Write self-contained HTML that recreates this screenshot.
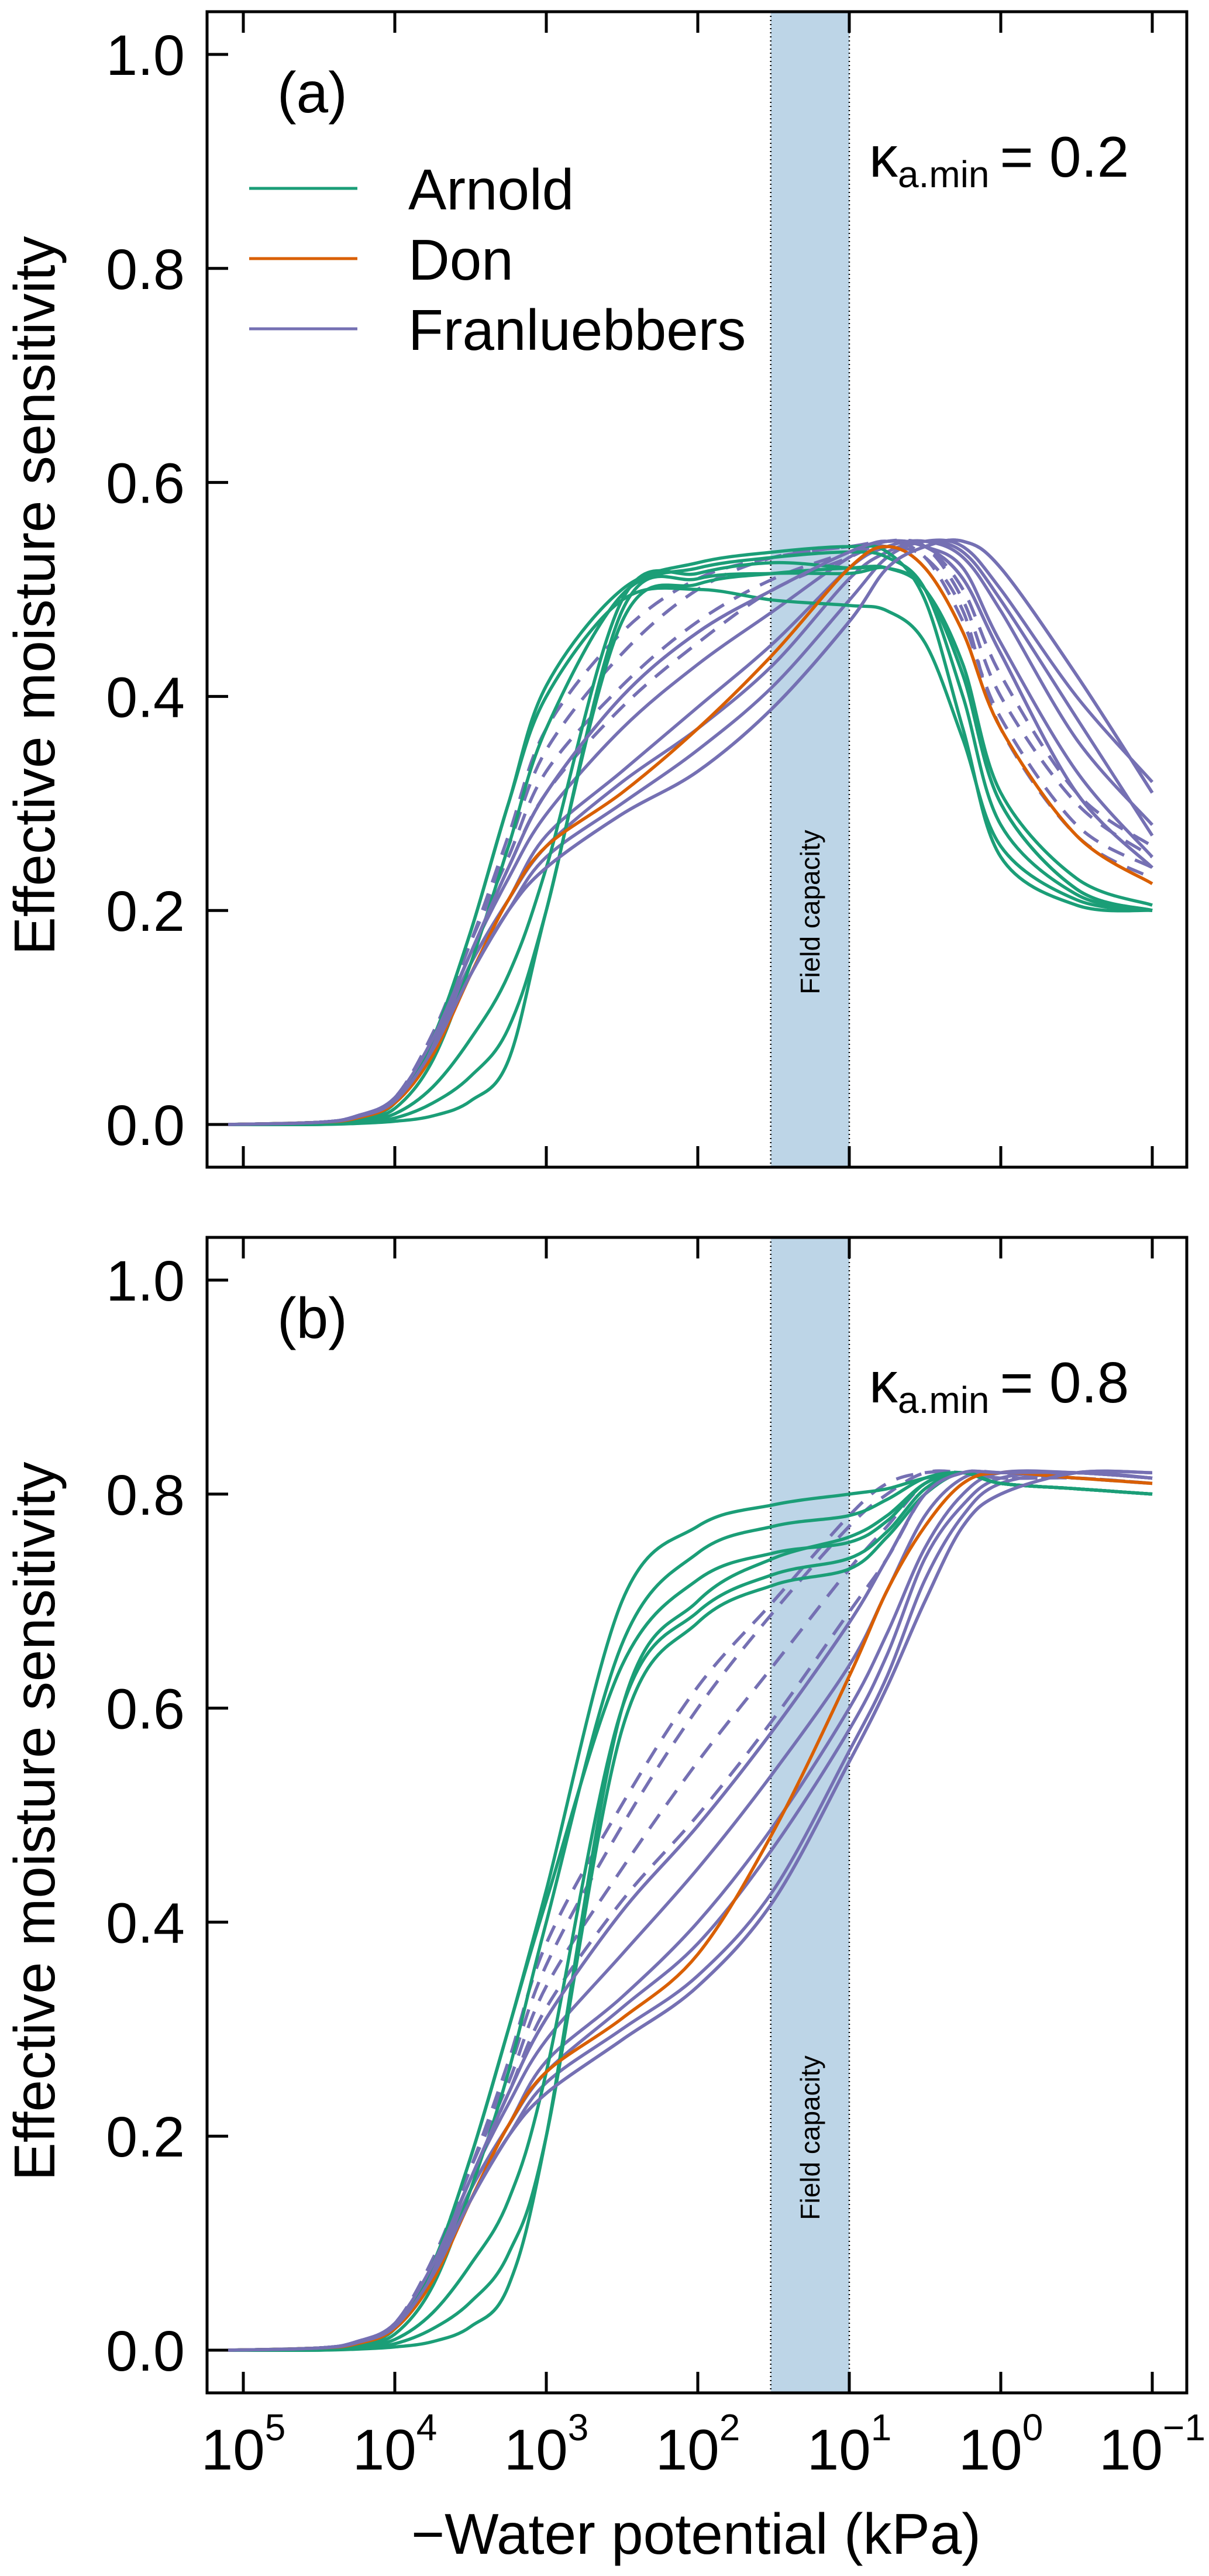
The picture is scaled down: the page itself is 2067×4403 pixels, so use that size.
<!DOCTYPE html>
<html><head><meta charset="utf-8"><style>
html,body{margin:0;padding:0;background:#fff}
svg{display:block}
text{font-family:"Liberation Sans",Arial,sans-serif;fill:#000}
</style></head><body>
<svg id="fig" xmlns="http://www.w3.org/2000/svg" width="2067" height="4403" viewBox="0 0 2067 4403"></svg>
<script>
// x grid: log10(-water potential, kPa)
const logX = [5.1,4.5,4.25,4,3.75,3.5,3.25,3,2.5,2,1.5,1,0.75,0.5,0.25,0,-0.5,-1];
const xTickExp = [5,4,3,2,1,0,-1];
const yTicks = [0,0.2,0.4,0.6,0.8,1.0];
const yTickLabels = ["0.0","0.2","0.4","0.6","0.8","1.0"];
const fieldCapacity = [Math.log10(33), 1];

// Panel (a) kappa = 0.2
const arnoldA = [
[0,0.002,0.006,0.02,0.08,0.18,0.30,0.41,0.50,0.525,0.535,0.54,0.535,0.49,0.37,0.25,0.205,0.20],
[0,0.002,0.006,0.02,0.08,0.18,0.30,0.40,0.49,0.50,0.49,0.485,0.48,0.45,0.36,0.26,0.21,0.20],
[0,0.001,0.004,0.015,0.06,0.15,0.26,0.37,0.495,0.52,0.53,0.535,0.53,0.50,0.40,0.28,0.215,0.20],
[0,0.001,0.003,0.01,0.035,0.08,0.14,0.24,0.49,0.515,0.525,0.52,0.52,0.50,0.42,0.30,0.22,0.20],
[0,0,0.002,0.006,0.02,0.045,0.09,0.20,0.48,0.51,0.515,0.515,0.52,0.50,0.42,0.30,0.22,0.20],
[0,0,0.001,0.003,0.008,0.022,0.06,0.20,0.47,0.505,0.515,0.52,0.52,0.50,0.43,0.31,0.23,0.205]];
const donA = [[0,0.002,0.006,0.02,0.065,0.14,0.21,0.26,0.31,0.37,0.44,0.52,0.54,0.52,0.46,0.37,0.27,0.225]];
const franSolidA = [
[0,0.002,0.007,0.022,0.07,0.14,0.20,0.25,0.30,0.35,0.41,0.49,0.53,0.545,0.54,0.50,0.40,0.32],
[0,0.002,0.007,0.023,0.075,0.15,0.21,0.27,0.33,0.39,0.45,0.52,0.54,0.545,0.53,0.48,0.36,0.28],
[0,0.002,0.008,0.025,0.08,0.16,0.23,0.29,0.37,0.43,0.48,0.53,0.545,0.54,0.52,0.45,0.33,0.25],
[0,0.002,0.008,0.025,0.08,0.16,0.24,0.31,0.40,0.46,0.50,0.535,0.545,0.54,0.51,0.44,0.31,0.24],
[0,0.002,0.007,0.022,0.07,0.14,0.20,0.24,0.29,0.33,0.39,0.47,0.52,0.54,0.545,0.52,0.42,0.31],
[0,0.002,0.007,0.022,0.072,0.15,0.21,0.26,0.32,0.37,0.43,0.51,0.535,0.545,0.535,0.49,0.38,0.27]];
const franDashA = [
[0,0.002,0.008,0.025,0.085,0.17,0.26,0.35,0.44,0.50,0.53,0.54,0.545,0.54,0.49,0.40,0.30,0.25],
[0,0.002,0.008,0.025,0.085,0.17,0.25,0.33,0.41,0.47,0.51,0.535,0.545,0.53,0.47,0.38,0.28,0.24],
[0,0.002,0.008,0.025,0.085,0.17,0.27,0.37,0.46,0.51,0.53,0.54,0.54,0.53,0.48,0.37,0.27,0.23],
[0,0.002,0.008,0.025,0.08,0.16,0.24,0.31,0.39,0.45,0.50,0.53,0.545,0.54,0.50,0.42,0.31,0.26]];

// Panel (b) kappa = 0.8
const arnoldB = [
[0,0.002,0.006,0.02,0.08,0.18,0.30,0.43,0.70,0.77,0.79,0.80,0.805,0.815,0.82,0.81,0.805,0.80],
[0,0.002,0.006,0.02,0.08,0.18,0.30,0.42,0.64,0.72,0.745,0.755,0.775,0.81,0.82,0.81,0.805,0.80],
[0,0.001,0.004,0.015,0.06,0.15,0.26,0.40,0.66,0.745,0.77,0.78,0.795,0.815,0.82,0.81,0.805,0.80],
[0,0.001,0.003,0.01,0.035,0.08,0.14,0.26,0.60,0.69,0.725,0.74,0.765,0.805,0.82,0.81,0.805,0.80],
[0,0,0.002,0.006,0.02,0.045,0.09,0.20,0.58,0.68,0.715,0.73,0.76,0.80,0.82,0.81,0.805,0.80],
[0,0,0.001,0.003,0.008,0.022,0.06,0.20,0.60,0.70,0.74,0.76,0.78,0.81,0.82,0.81,0.805,0.80]];
const donB = [[0,0.002,0.006,0.02,0.065,0.14,0.21,0.26,0.31,0.37,0.485,0.63,0.71,0.77,0.81,0.82,0.815,0.81]];
const franSolidB = [
[0,0.002,0.007,0.022,0.07,0.14,0.20,0.25,0.30,0.35,0.43,0.56,0.63,0.72,0.78,0.81,0.82,0.815],
[0,0.002,0.007,0.023,0.075,0.15,0.21,0.27,0.33,0.40,0.49,0.60,0.67,0.75,0.80,0.82,0.82,0.815],
[0,0.002,0.008,0.025,0.08,0.16,0.23,0.29,0.37,0.45,0.54,0.64,0.71,0.78,0.815,0.82,0.82,0.815],
[0,0.002,0.008,0.025,0.08,0.16,0.24,0.31,0.41,0.49,0.58,0.68,0.74,0.80,0.82,0.82,0.82,0.815],
[0,0.002,0.007,0.022,0.07,0.14,0.20,0.24,0.29,0.34,0.42,0.55,0.62,0.70,0.77,0.80,0.82,0.82],
[0,0.002,0.007,0.022,0.072,0.15,0.21,0.26,0.32,0.38,0.47,0.58,0.65,0.74,0.79,0.815,0.82,0.815]];
const franDashB = [
[0,0.002,0.008,0.025,0.085,0.17,0.26,0.36,0.49,0.60,0.69,0.77,0.80,0.82,0.82,0.815,0.815,0.81],
[0,0.002,0.008,0.025,0.085,0.17,0.25,0.34,0.45,0.55,0.64,0.73,0.77,0.81,0.82,0.82,0.815,0.81],
[0,0.002,0.008,0.025,0.085,0.17,0.27,0.38,0.51,0.62,0.70,0.78,0.81,0.82,0.82,0.815,0.815,0.81],
[0,0.002,0.008,0.025,0.08,0.16,0.24,0.32,0.42,0.50,0.59,0.69,0.74,0.80,0.82,0.82,0.815,0.81]];

const NS = "http://www.w3.org/2000/svg";
const svg = document.getElementById('fig');
const GREEN="#1b9e77", ORANGE="#d95f02", PURPLE="#7570b3";
const L=354, R=2029;
function mk(tag, attrs, parent){const e=document.createElementNS(NS,tag);for(const k in attrs)e.setAttribute(k,attrs[k]);(parent||svg).appendChild(e);return e;}
function xScale(lg){return 416+(5-lg)*259;}
function smoothPath(pts){
  let d="M"+pts[0][0].toFixed(1)+","+pts[0][1].toFixed(1);
  for(let i=0;i<pts.length-1;i++){
    const p0=pts[Math.max(0,i-1)],p1=pts[i],p2=pts[i+1],p3=pts[Math.min(pts.length-1,i+2)];
    const c1=[p1[0]+(p2[0]-p0[0])/6,p1[1]+(p2[1]-p0[1])/6];
    const c2=[p2[0]-(p3[0]-p1[0])/6,p2[1]-(p3[1]-p1[1])/6];
    d+=" C"+c1[0].toFixed(1)+","+c1[1].toFixed(1)+" "+c2[0].toFixed(1)+","+c2[1].toFixed(1)+" "+p2[0].toFixed(1)+","+p2[1].toFixed(1);
  }
  return d;
}
function panel(off, label, kappa, arn, don, fs, fd, id){
  const top=20+off, bot=1995+off;
  const yScale=v=>1922+off-1829*v;
  const g=mk('g',{});
  
  
  const cp=mk('clipPath',{id:'clip'+id},g);
  mk('rect',{x:L,y:top,width:R-L,height:bot-top},cp);
  const band=mk('rect',{x:xScale(fieldCapacity[0]),y:top,width:xScale(fieldCapacity[1])-xScale(fieldCapacity[0]),height:bot-top,fill:"#bdd5e7"},g);
  
  
  for(const lv of fieldCapacity){
    const ln=mk('line',{x1:xScale(lv),x2:xScale(lv),y1:top,y2:bot,stroke:"#000","stroke-width":2.5,"stroke-dasharray":"2,5"},g);
    
    
  }
  const fc=mk('text',{x:0,y:0,"font-size":46,"text-anchor":"middle",transform:"translate("+(xScale((fieldCapacity[0]+fieldCapacity[1])/2)+16)+","+(1559+off)+") rotate(-90)"},g);
  fc.textContent="Field capacity";
  
  
  const cg=mk('g',{"clip-path":"url(#clip"+id+")",fill:"none","stroke-width":5.5,"stroke-linejoin":"round"},g);
  
  
  function draw(set,color,name,dash){
    set.forEach(vals=>{
      const pts=vals.map((v,i)=>[xScale(logX[i]),yScale(v)]);
      const p=mk('path',{d:smoothPath(pts),stroke:color},cg);
      if(dash)p.setAttribute('stroke-dasharray','30,20');
      
      
    });
  }
  draw(fd,PURPLE,'franluebbers-dashed-curve',true);
  draw(fs,PURPLE,'franluebbers-curve',false);
  draw(arn,GREEN,'arnold-curve',false);
  draw(don,ORANGE,'don-curve',false);
  draw(fs.slice(3,5),PURPLE,'franluebbers-curve',false);
  const box=mk('rect',{x:L,y:top,width:R-L,height:bot-top,fill:"none",stroke:"#000","stroke-width":5},g);
  
  
  yTicks.forEach((t,i)=>{
    const y=yScale(t);
    const tk=mk('line',{x1:L,x2:L+36,y1:y,y2:y,stroke:"#000","stroke-width":5},g);
    
    
    const tl=mk('text',{x:316,y:y+35,"font-size":97,"text-anchor":"end"},g);
    tl.textContent=yTickLabels[i];
    
    
  });
  xTickExp.forEach(e=>{
    const x=xScale(e);
    const t1=mk('line',{x1:x,x2:x,y1:bot,y2:bot-36,stroke:"#000","stroke-width":5},g);
    
    
    const t2=mk('line',{x1:x,x2:x,y1:top,y2:top+36,stroke:"#000","stroke-width":5},g);
    
    
  });
  const yt=mk('text',{x:0,y:0,"font-size":98,"text-anchor":"middle",transform:"translate(93,"+(1018+off)+") rotate(-90)"},g);
  yt.textContent="Effective moisture sensitivity";
  
  
  const pl=mk('text',{x:474,y:192+off,"font-size":98},g);
  pl.textContent=label;
  
  
  const kt=mk('text',{x:1486,y:302+off,"font-size":98},g);
  
  
  const s1=mk('tspan',{},kt); s1.textContent="κ";
  const s2=mk('tspan',{"font-size":64,dy:18}); kt.appendChild(s2); s2.textContent="a.min";
  const s3=mk('tspan',{dy:-18,dx:18}); kt.appendChild(s3); s3.textContent="= "+kappa;
  return {top,bot};
}
panel(0,"(a)","0.2",arnoldA,donA,franSolidA,franDashA,'a');
panel(2095,"(b)","0.8",arnoldB,donB,franSolidB,franDashB,'b');

const legend=mk('g',{});


[["Arnold",GREEN,322],["Don",ORANGE,442],["Franluebbers",PURPLE,562]].forEach(([n,c,y])=>{
  const ln=mk('line',{x1:426,x2:611,y1:y,y2:y,stroke:c,"stroke-width":5},legend);
  
  
  const t=mk('text',{x:698,y:y+36,"font-size":98},legend);
  t.textContent=n;
  
  
});

xTickExp.forEach(e=>{
  const x=xScale(e);
  const t=mk('text',{x:x,y:4221,"font-size":98,"text-anchor":"middle"});
  
  
  const a=mk('tspan',{}); t.appendChild(a); a.textContent="10";
  const b=mk('tspan',{"font-size":64,dy:-50}); t.appendChild(b); b.textContent=(e<0?"−":"")+Math.abs(e);
});
const xt=mk('text',{x:1190,y:4365,"font-size":98,"text-anchor":"middle"});
xt.textContent="−Water potential (kPa)";


</script>
</body></html>
